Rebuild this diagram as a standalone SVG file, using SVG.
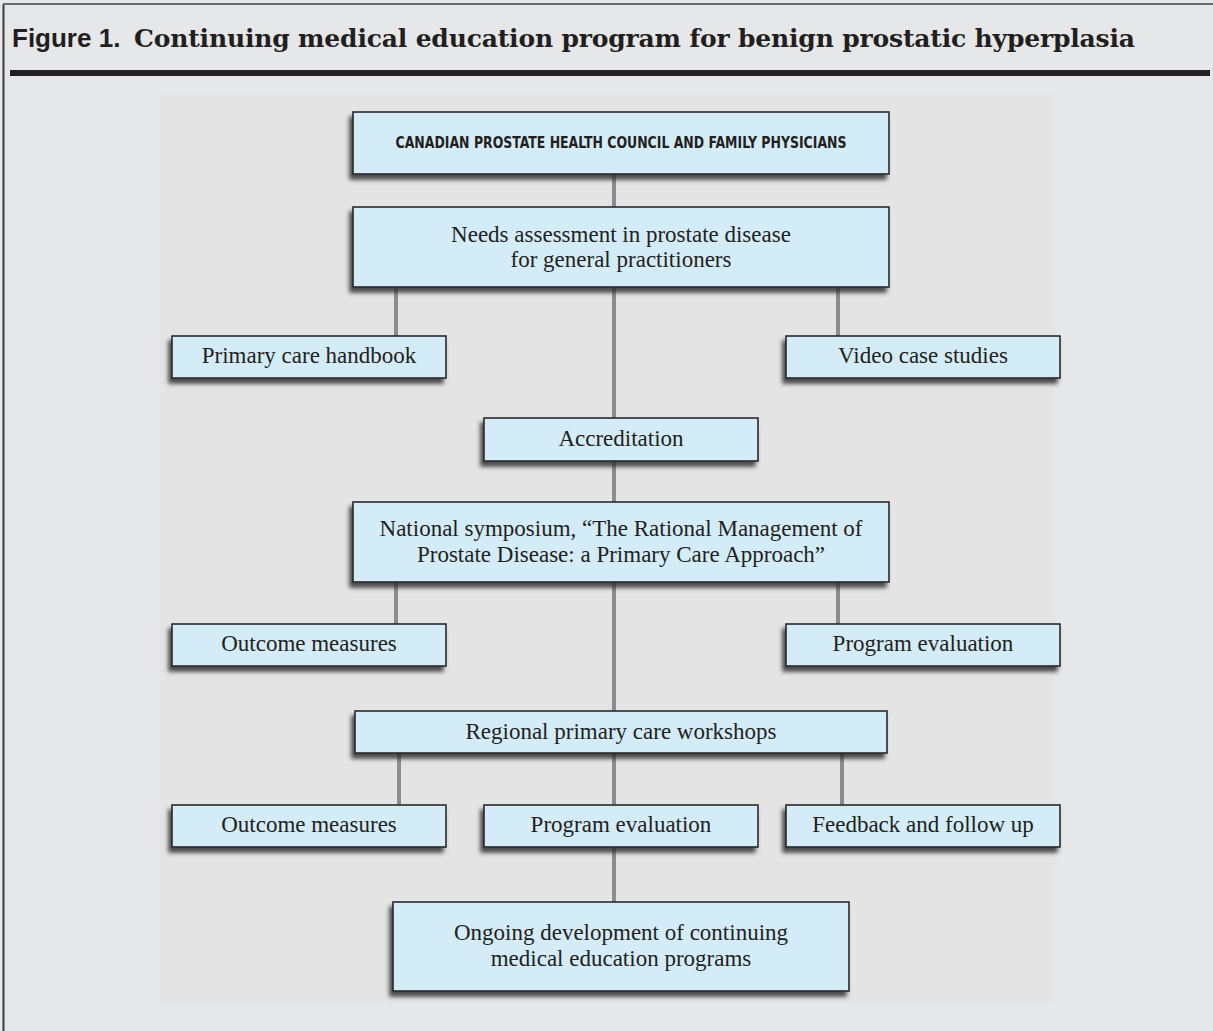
<svg xmlns="http://www.w3.org/2000/svg" width="1213" height="1031" viewBox="0 0 1213 1031">
  <defs>
    <filter id="sh" x="-10%" y="-20%" width="120%" height="150%">
      <feGaussianBlur in="SourceAlpha" stdDeviation="2"/>
      <feOffset dx="-3" dy="5" result="o"/>
      <feFlood flood-color="#2e2e2e" flood-opacity="0.85"/>
      <feComposite in2="o" operator="in"/>
      <feMerge><feMergeNode/><feMergeNode in="SourceGraphic"/></feMerge>
    </filter>
  </defs>
  <style>
    .box { fill: #d3ecf8; stroke: #2a2a2a; stroke-width: 1.6; filter: url(#sh); }
    .t { font-family: "Liberation Serif", "Times New Roman", serif; font-size: 23px; fill: #231f20; text-anchor: middle; }
    .caps { font-family: "Liberation Sans Narrow", "DejaVu Sans Condensed", "Liberation Sans", sans-serif; font-weight: bold; font-size: 15px; fill: #231f20; text-anchor: middle; }
    .conn line { stroke: #8d8d8f; stroke-width: 4; }
  </style>
  <rect x="0" y="0" width="1213" height="1031" fill="#e6e7e8"/>
  <rect x="160" y="95" width="895" height="908" fill="#e4e4e4"/>
  <line x1="3.5" y1="4" x2="3.5" y2="1031" stroke="#3a3a3a" stroke-width="2"/>
  <line x1="3" y1="4" x2="1213" y2="4" stroke="#6a6a6a" stroke-width="2"/>
  <text y="47" fill="#231f20"><tspan x="12" font-family="Liberation Sans, Arial, sans-serif" font-weight="bold" font-size="26">Figure 1.</tspan><tspan x="134" font-family="DejaVu Serif, serif" font-weight="bold" font-size="25" textLength="1001" lengthAdjust="spacing">Continuing medical education program for benign prostatic hyperplasia</tspan></text>
  <rect x="10" y="70" width="1200" height="6" fill="#231f20"/>

  <g id="connectors" class="conn">
    <line x1="614" y1="174" x2="614" y2="207"/>
    <line x1="396" y1="287" x2="396" y2="336"/>
    <line x1="838" y1="287" x2="838" y2="336"/>
    <line x1="614" y1="287" x2="614" y2="418"/>
    <line x1="614" y1="461" x2="614" y2="502"/>
    <line x1="396" y1="582" x2="396" y2="624"/>
    <line x1="838" y1="582" x2="838" y2="624"/>
    <line x1="614" y1="582" x2="614" y2="711"/>
    <line x1="399" y1="753" x2="399" y2="805"/>
    <line x1="614" y1="753" x2="614" y2="805"/>
    <line x1="842" y1="753" x2="842" y2="805"/>
    <line x1="614" y1="847" x2="614" y2="902"/>
  </g>

  <g id="n-council"><rect class="box" x="353" y="112" width="536" height="62"/><text class="caps" x="621" y="148" textLength="451" lengthAdjust="spacingAndGlyphs">CANADIAN PROSTATE HEALTH COUNCIL AND FAMILY PHYSICIANS</text></g>
  <g id="n-needs"><rect class="box" x="353" y="207" width="536" height="80"/><text class="t" x="621" y="242">Needs assessment in prostate disease</text><text class="t" x="621" y="267">for general practitioners</text></g>
  <g id="n-handbook"><rect class="box" x="172" y="336" width="274" height="42"/><text class="t" x="309" y="363">Primary care handbook</text></g>
  <g id="n-video"><rect class="box" x="786" y="336" width="274" height="42"/><text class="t" x="923" y="363">Video case studies</text></g>
  <g id="n-accreditation"><rect class="box" x="484" y="418" width="274" height="43"/><text class="t" x="621" y="446">Accreditation</text></g>
  <g id="n-symposium"><rect class="box" x="353" y="502" width="536" height="80"/><text class="t" x="621" y="536">National symposium, “The Rational Management of</text><text class="t" x="621" y="562">Prostate Disease: a Primary Care Approach”</text></g>
  <g id="n-outcome1"><rect class="box" x="172" y="624" width="274" height="42"/><text class="t" x="309" y="651">Outcome measures</text></g>
  <g id="n-evaluation1"><rect class="box" x="786" y="624" width="274" height="42"/><text class="t" x="923" y="651">Program evaluation</text></g>
  <g id="n-regional"><rect class="box" x="355" y="711" width="532" height="42"/><text class="t" x="621" y="739">Regional primary care workshops</text></g>
  <g id="n-outcome2"><rect class="box" x="172" y="805" width="274" height="42"/><text class="t" x="309" y="832">Outcome measures</text></g>
  <g id="n-evaluation2"><rect class="box" x="484" y="805" width="274" height="42"/><text class="t" x="621" y="832">Program evaluation</text></g>
  <g id="n-feedback"><rect class="box" x="786" y="805" width="274" height="42"/><text class="t" x="923" y="832">Feedback and follow up</text></g>
  <g id="n-ongoing"><rect class="box" x="393" y="902" width="456" height="89"/><text class="t" x="621" y="940">Ongoing development of continuing</text><text class="t" x="621" y="966">medical education programs</text></g>
</svg>
